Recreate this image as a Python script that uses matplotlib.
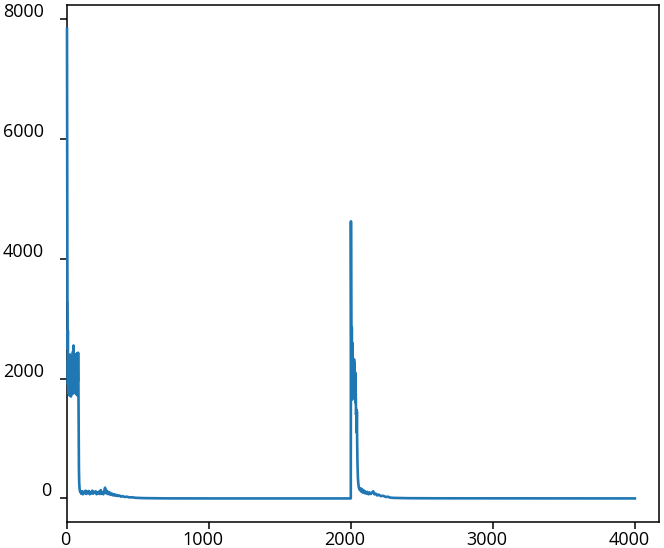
import matplotlib
matplotlib.use("Agg")
import matplotlib.pyplot as plt
from matplotlib.transforms import ScaledTranslation

# ---- data ----
steps_run1 = [0, 1, 2, 3, 4, 5, 6, 7, 8, 9, 10,
              12, 14, 16, 18, 20, 22, 24, 26, 28, 30, 32, 34, 36, 38, 40,
              42, 44, 46, 48, 50, 52, 54, 56, 58, 60, 62, 64, 66, 68, 70,
              72, 74, 76, 78, 80, 82, 84, 86, 88, 90, 93, 96,
              100, 106, 112, 118, 124, 130, 136, 142, 148, 154, 160, 166, 172,
              178, 184, 190, 196, 202, 208, 214, 220, 226, 232, 238, 244, 250,
              256, 262, 268, 274, 280, 286, 292, 298, 304, 310, 318, 326, 334,
              342, 350, 360, 370, 380, 392, 405, 420, 440, 460, 480, 500, 540,
              600, 700, 1000, 1999]
loss_run1 = [7830, 6050, 4300, 3300, 3280, 2500, 2800, 1900, 2300, 1750, 2200,
             1800, 2350, 1720, 2100, 1850, 2400, 1780, 2000, 1700, 2250, 1900,
             2300, 1760, 2150, 1820, 2450, 1750, 2550, 1900, 2380, 1800, 2200,
             1760, 2050, 1850, 2400, 1740, 2300, 1800, 2420, 1720, 2380, 1950,
             2430, 2100, 1200, 500, 260, 180, 140, 110, 120,
             80, 120, 70, 110, 90, 130, 75, 115, 90, 125, 70, 105, 85,
             130, 80, 110, 95, 120, 70, 100, 85, 115, 75, 140, 80, 100,
             70, 120, 180, 90, 130, 75, 110, 70, 95, 60, 80, 50, 70,
             45, 60, 40, 50, 30, 40, 25, 30, 18, 20, 12, 10, 6,
             4, 2, 1, 1]

steps_run2 = [2000, 2001, 2002, 2003, 2004, 2005, 2006, 2007, 2008, 2009, 2010,
              2012, 2014, 2016, 2018, 2020, 2022, 2024, 2026, 2028, 2030, 2032,
              2034, 2036, 2038, 2040, 2042, 2044, 2046, 2049, 2052, 2056, 2060,
              2065, 2070, 2076, 2082, 2088, 2094, 2100, 2108, 2116, 2124, 2132,
              2140, 2148, 2157, 2165, 2175, 2185, 2195, 2210, 2228, 2245, 2260,
              2275, 2300, 2400, 2600, 3000, 4000]
loss_run2 = [4620, 3200, 2860, 1800, 2700, 1700, 2850, 2000, 2600, 1650, 2400,
             1750, 2300, 1700, 2200, 1680, 2320, 1750, 2250, 1700, 2100, 1600,
             1750, 1400, 1480, 1100, 1450, 900, 600, 350, 250, 180, 150,
             170, 120, 160, 100, 140, 90, 120, 80, 110, 70, 100,
             75, 95, 120, 70, 80, 50, 65, 40, 45, 25, 30,
             15, 10, 5, 3, 2, 1]

x_ticks = [0, 1000, 2000, 3000, 4000]
y_ticks = [0, 2000, 4000, 6000, 8000]

steps = steps_run1 + steps_run2
loss = loss_run1 + loss_run2

# ---- figure ----
plt.rcParams['font.family'] = ['Open Sans', 'DejaVu Sans']
fig = plt.figure(figsize=(6.64, 5.48), dpi=100)
ax = fig.add_axes([67/664, 26/548, (659-67)/664, (543-26)/548])

ax.plot(steps, loss, color='#1f77b4', linewidth=1.9, zorder=3, clip_on=False)

ax.set_xlim(0, 4170)
ax.set_ylim(-392, 8226)
ax.set_xticks(x_ticks)
ax.set_yticks(y_ticks)
ax.set_xticklabels([str(v) for v in x_ticks])
ax.set_yticklabels([str(v) for v in y_ticks])

for s in ax.spines.values():
    s.set_linewidth(1.1)
ax.tick_params(axis='both', direction='out', length=5, width=1.1,
               labelsize=13)
ax.tick_params(axis='x', pad=1.5)
ax.tick_params(axis='y', pad=5)

# reproduce the label placement of the reference
for lab in ax.get_xticklabels():
    n = len(lab.get_text())
    dx = -6 if n > 1 else -2
    lab.set_transform(lab.get_transform() +
                      ScaledTranslation(dx / 100, 0, fig.dpi_scale_trans))
for lab in ax.get_yticklabels():
    n = len(lab.get_text())
    dx = -9 if n > 1 else -2
    lab.set_verticalalignment('baseline')
    lab.set_transform(lab.get_transform() +
                      ScaledTranslation(dx / 100, 2 / 100, fig.dpi_scale_trans))

fig.savefig('out.png', dpi=100)
